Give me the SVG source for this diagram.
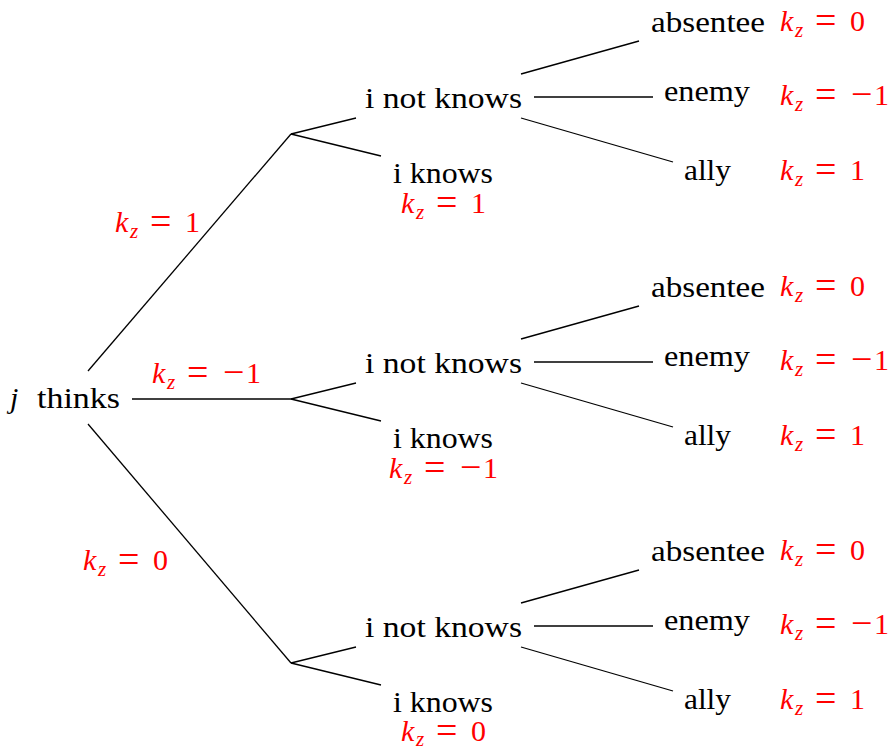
<svg xmlns="http://www.w3.org/2000/svg" width="892" height="749" viewBox="0 0 892 749">
<style>
.r{fill:#ff0000}
.it{font-style:italic}
.sub{font-style:italic;font-size:21px}
.eq{font-size:38px}
.c line{stroke:#000;stroke-width:1.3;fill:none}
</style>
<rect width="892" height="749" fill="#fff"/>
<g class="c" id="connectors">
<line x1="88" y1="371" x2="291" y2="134"/>
<line x1="132" y1="399" x2="291" y2="399"/>
<line x1="88" y1="424" x2="291" y2="663"/>
<g id="e-top">
<line x1="291" y1="134" x2="356" y2="118"/>
<line x1="291" y1="134" x2="381" y2="156"/>
<line x1="521" y1="74" x2="639" y2="41"/>
<line x1="534" y1="97" x2="653" y2="97"/>
<line x1="521" y1="118" x2="673" y2="162"/>
</g>
<g id="e-mid" transform="translate(0,265)">
<line x1="291" y1="134" x2="356" y2="118"/>
<line x1="291" y1="134" x2="381" y2="156"/>
<line x1="521" y1="74" x2="639" y2="41"/>
<line x1="534" y1="97" x2="653" y2="97"/>
<line x1="521" y1="118" x2="673" y2="162"/>
</g>
<g id="e-bot" transform="translate(0,529)">
<line x1="291" y1="134" x2="356" y2="118"/>
<line x1="291" y1="134" x2="381" y2="156"/>
<line x1="521" y1="74" x2="639" y2="41"/>
<line x1="534" y1="97" x2="653" y2="97"/>
<line x1="521" y1="118" x2="673" y2="162"/>
</g>
<g id="edge-labels">
<text class="r" style="font-family:'Liberation Serif',serif;font-size:30px"><tspan class="it" x="115" y="232">k</tspan><tspan class="sub" x="130" y="238">z</tspan><tspan class="eq" x="150" y="234">=</tspan><tspan x="185" y="232">1</tspan></text>
<text class="r" style="font-family:'Liberation Serif',serif;font-size:30px"><tspan class="it" x="152" y="383">k</tspan><tspan class="sub" x="167" y="389">z</tspan><tspan class="eq" x="187" y="385">=</tspan><tspan class="eq" x="223" y="385">−</tspan><tspan x="246" y="383">1</tspan></text>
<text class="r" style="font-family:'Liberation Serif',serif;font-size:30px"><tspan class="it" x="83" y="570">k</tspan><tspan class="sub" x="98" y="576">z</tspan><tspan class="eq" x="118" y="572">=</tspan><tspan x="153" y="570">0</tspan></text>
</g>
</g>
<g id="root"><text x="10" y="408" style="font-family:'Liberation Serif',serif;font-size:30px"><tspan class="it">j</tspan><tspan x="37" textLength="83" lengthAdjust="spacingAndGlyphs">thinks</tspan></text></g>

<g id="top">
<g id="top-notknows"><text x="365" y="108" textLength="157" lengthAdjust="spacingAndGlyphs" style="font-family:'Liberation Serif',serif;font-size:30px">i not knows</text></g>
<g id="top-knows"><text x="393" y="183" textLength="100" lengthAdjust="spacingAndGlyphs" style="font-family:'Liberation Serif',serif;font-size:30px">i knows</text>
<text class="r" style="font-family:'Liberation Serif',serif;font-size:30px"><tspan class="it" x="401" y="213">k</tspan><tspan class="sub" x="416" y="219">z</tspan><tspan class="eq" x="436" y="215">=</tspan><tspan x="471" y="213">1</tspan></text></g>
<g id="top-absentee"><text x="651" y="32" textLength="114" lengthAdjust="spacingAndGlyphs" style="font-family:'Liberation Serif',serif;font-size:30px">absentee</text>
<text class="r" style="font-family:'Liberation Serif',serif;font-size:30px"><tspan class="it" x="780" y="31">k</tspan><tspan class="sub" x="795" y="37">z</tspan><tspan class="eq" x="815" y="33">=</tspan><tspan x="850" y="31">0</tspan></text></g>
<g id="top-enemy"><text x="664" y="101" textLength="86" lengthAdjust="spacingAndGlyphs" style="font-family:'Liberation Serif',serif;font-size:30px">enemy</text>
<text class="r" style="font-family:'Liberation Serif',serif;font-size:30px"><tspan class="it" x="780" y="105">k</tspan><tspan class="sub" x="795" y="111">z</tspan><tspan class="eq" x="815" y="107">=</tspan><tspan class="eq" x="851" y="107">−</tspan><tspan x="874" y="105">1</tspan></text></g>
<g id="top-ally"><text x="684" y="180" textLength="47" lengthAdjust="spacingAndGlyphs" style="font-family:'Liberation Serif',serif;font-size:30px">ally</text>
<text class="r" style="font-family:'Liberation Serif',serif;font-size:30px"><tspan class="it" x="780" y="180">k</tspan><tspan class="sub" x="795" y="186">z</tspan><tspan class="eq" x="815" y="182">=</tspan><tspan x="850" y="180">1</tspan></text></g>
</g>

<g id="mid" transform="translate(0,265)">
<g id="mid-notknows"><text x="365" y="108" textLength="157" lengthAdjust="spacingAndGlyphs" style="font-family:'Liberation Serif',serif;font-size:30px">i not knows</text></g>
<g id="mid-knows"><text x="393" y="183" textLength="100" lengthAdjust="spacingAndGlyphs" style="font-family:'Liberation Serif',serif;font-size:30px">i knows</text>
<text class="r" style="font-family:'Liberation Serif',serif;font-size:30px"><tspan class="it" x="389" y="213">k</tspan><tspan class="sub" x="404" y="219">z</tspan><tspan class="eq" x="424" y="215">=</tspan><tspan class="eq" x="460" y="215">−</tspan><tspan x="483" y="213">1</tspan></text></g>
<g id="mid-absentee"><text x="651" y="32" textLength="114" lengthAdjust="spacingAndGlyphs" style="font-family:'Liberation Serif',serif;font-size:30px">absentee</text>
<text class="r" style="font-family:'Liberation Serif',serif;font-size:30px"><tspan class="it" x="780" y="31">k</tspan><tspan class="sub" x="795" y="37">z</tspan><tspan class="eq" x="815" y="33">=</tspan><tspan x="850" y="31">0</tspan></text></g>
<g id="mid-enemy"><text x="664" y="101" textLength="86" lengthAdjust="spacingAndGlyphs" style="font-family:'Liberation Serif',serif;font-size:30px">enemy</text>
<text class="r" style="font-family:'Liberation Serif',serif;font-size:30px"><tspan class="it" x="780" y="105">k</tspan><tspan class="sub" x="795" y="111">z</tspan><tspan class="eq" x="815" y="107">=</tspan><tspan class="eq" x="851" y="107">−</tspan><tspan x="874" y="105">1</tspan></text></g>
<g id="mid-ally"><text x="684" y="180" textLength="47" lengthAdjust="spacingAndGlyphs" style="font-family:'Liberation Serif',serif;font-size:30px">ally</text>
<text class="r" style="font-family:'Liberation Serif',serif;font-size:30px"><tspan class="it" x="780" y="180">k</tspan><tspan class="sub" x="795" y="186">z</tspan><tspan class="eq" x="815" y="182">=</tspan><tspan x="850" y="180">1</tspan></text></g>
</g>

<g id="bot" transform="translate(0,529)">
<g id="bot-notknows"><text x="365" y="108" textLength="157" lengthAdjust="spacingAndGlyphs" style="font-family:'Liberation Serif',serif;font-size:30px">i not knows</text></g>
<g id="bot-knows"><text x="393" y="183" textLength="100" lengthAdjust="spacingAndGlyphs" style="font-family:'Liberation Serif',serif;font-size:30px">i knows</text>
<text class="r" style="font-family:'Liberation Serif',serif;font-size:30px"><tspan class="it" x="401" y="212">k</tspan><tspan class="sub" x="416" y="217">z</tspan><tspan class="eq" x="436" y="214">=</tspan><tspan x="471" y="212">0</tspan></text></g>
<g id="bot-absentee"><text x="651" y="32" textLength="114" lengthAdjust="spacingAndGlyphs" style="font-family:'Liberation Serif',serif;font-size:30px">absentee</text>
<text class="r" style="font-family:'Liberation Serif',serif;font-size:30px"><tspan class="it" x="780" y="31">k</tspan><tspan class="sub" x="795" y="37">z</tspan><tspan class="eq" x="815" y="33">=</tspan><tspan x="850" y="31">0</tspan></text></g>
<g id="bot-enemy"><text x="664" y="101" textLength="86" lengthAdjust="spacingAndGlyphs" style="font-family:'Liberation Serif',serif;font-size:30px">enemy</text>
<text class="r" style="font-family:'Liberation Serif',serif;font-size:30px"><tspan class="it" x="780" y="105">k</tspan><tspan class="sub" x="795" y="111">z</tspan><tspan class="eq" x="815" y="107">=</tspan><tspan class="eq" x="851" y="107">−</tspan><tspan x="874" y="105">1</tspan></text></g>
<g id="bot-ally"><text x="684" y="180" textLength="47" lengthAdjust="spacingAndGlyphs" style="font-family:'Liberation Serif',serif;font-size:30px">ally</text>
<text class="r" style="font-family:'Liberation Serif',serif;font-size:30px"><tspan class="it" x="780" y="180">k</tspan><tspan class="sub" x="795" y="186">z</tspan><tspan class="eq" x="815" y="182">=</tspan><tspan x="850" y="180">1</tspan></text></g>
</g>
</svg>
